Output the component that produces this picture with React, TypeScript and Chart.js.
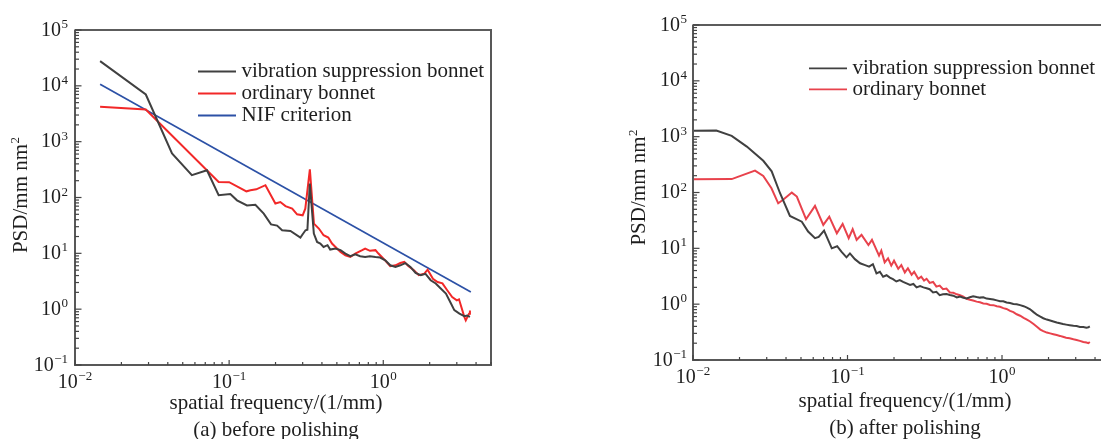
import React, { useEffect, useRef } from "react";
import { Chart, registerables } from "chart.js";

Chart.register(...registerables);

// ---------- axis ranges / ticks ----------
const X_MIN = 0.01;
const X_MAX = 5;
const Y_MIN = 0.1;
const Y_MAX = 1e5;
const xTickExps = [-2, -1, 0];
const yTickExps = [-1, 0, 1, 2, 3, 4, 5];

// ---------- texts ----------
const seriesLabels = ["vibration suppression bonnet", "ordinary bonnet", "NIF criterion"];
const xAxisTitle = "spatial frequency/(1/mm)";
const yAxisTitle = "PSD/mm nm";
const yAxisTitleSup = "2";
const subtitleA = "(a) before polishing";
const subtitleB = "(b) after polishing";

// ---------- (a) before polishing ----------
const vsbBeforeFreq = [0.01455, 0.0288, 0.0426, 0.0573, 0.0718, 0.0855, 0.1018, 0.1125, 0.1305, 0.148, 0.1677, 0.187, 0.2047, 0.2207, 0.25, 0.29, 0.3, 0.313, 0.322, 0.3337, 0.3545, 0.372, 0.3905, 0.41, 0.435, 0.4525, 0.49, 0.528, 0.568, 0.611, 0.658, 0.708, 0.763, 0.82, 0.89, 0.955, 1.03, 1.11, 1.2, 1.29, 1.39, 1.5, 1.62, 1.75, 1.88, 2.03, 2.19, 2.36, 2.55, 2.75, 2.89, 3.12, 3.36, 3.5, 3.65];
const vsbBeforePsd = [27700, 7000, 615, 251, 308, 110, 115, 89, 72, 74, 51.5, 33, 31.4, 25.9, 25.2, 19.2, 22, 25.9, 26.5, 178, 22.6, 16, 15, 13, 14, 11.7, 12.2, 11.4, 9.9, 8.9, 9.6, 8.9, 8.6, 8.9, 8.6, 8.4, 7.5, 6.1, 5.7, 6.1, 6.7, 5.7, 4.46, 4.05, 4.3, 3.3, 2.88, 2.34, 1.9, 1.26, 0.96, 0.83, 0.75, 0.77, 0.73];

const obBeforeFreq = [0.01455, 0.0288, 0.0855, 0.1, 0.1294, 0.1375, 0.15, 0.172, 0.1995, 0.215, 0.232, 0.2565, 0.276, 0.3, 0.312, 0.334, 0.355, 0.382, 0.41, 0.44, 0.465, 0.49, 0.528, 0.568, 0.611, 0.658, 0.73, 0.763, 0.82, 0.89, 0.93, 1.0, 1.11, 1.2, 1.29, 1.37, 1.46, 1.58, 1.7, 1.84, 1.94, 2.1, 2.25, 2.42, 2.6, 2.8, 3.0, 3.1, 3.36, 3.43, 3.6, 3.65];
const obBeforePsd = [4200, 3770, 190, 188, 129, 135, 140, 166, 78, 83, 70, 63.5, 50, 48, 63, 318, 34, 27.8, 21.1, 19.2, 15, 13, 10.6, 9.2, 8.6, 9.9, 11.4, 12.2, 11.1, 11.4, 9.9, 8.1, 5.9, 6.1, 6.7, 7.0, 5.9, 4.98, 4.05, 4.3, 5.1, 3.5, 3.07, 2.9, 2.18, 1.65, 1.44, 1.5, 0.72, 0.63, 0.83, 0.95];

const nifFreq = [0.01455, 3.7];
const nifPsd = [10700, 2.03];

// ---------- (b) after polishing ----------
const vsbAfterFreq = [0.0095, 0.01416, 0.0178, 0.0223, 0.0285, 0.0323, 0.0366, 0.0424, 0.0506, 0.0556, 0.0616, 0.0651, 0.0705, 0.0791, 0.0857, 0.0913, 0.0985, 0.1037, 0.1116, 0.1206, 0.13, 0.138, 0.146, 0.154, 0.162, 0.17, 0.179, 0.188, 0.197, 0.207, 0.218, 0.229, 0.241, 0.254, 0.267, 0.28, 0.295, 0.31, 0.325, 0.34, 0.358, 0.376, 0.395, 0.415, 0.437, 0.46, 0.484, 0.51, 0.535, 0.562, 0.59, 0.62, 0.65, 0.685, 0.72, 0.757, 0.795, 0.836, 0.88, 0.925, 0.97, 1.02, 1.07, 1.127, 1.185, 1.245, 1.31, 1.38, 1.45, 1.52, 1.6, 1.69, 1.77, 1.85, 1.95, 2.05, 2.15, 2.26, 2.37, 2.48, 2.6, 2.74, 2.9, 3.04, 3.19, 3.36, 3.52, 3.62, 3.7];
const vsbAfterPsd = [1270, 1290, 1033, 665, 370, 240, 97, 38, 30, 20, 15.2, 16, 20.8, 10, 10.9, 8.7, 6.9, 8.1, 6.4, 5.4, 5.0, 4.7, 5.2, 3.57, 3.8, 3.1, 3.3, 3.0, 2.8, 2.55, 2.7, 2.5, 2.35, 2.21, 2.3, 2.0, 2.1, 2.0, 1.93, 1.85, 1.62, 1.66, 1.45, 1.5, 1.52, 1.46, 1.42, 1.32, 1.37, 1.3, 1.27, 1.33, 1.38, 1.34, 1.31, 1.33, 1.26, 1.24, 1.21, 1.17, 1.13, 1.13, 1.07, 1.05, 1.01, 1.0, 0.96, 0.92, 0.87, 0.81, 0.72, 0.64, 0.6, 0.56, 0.53, 0.51, 0.49, 0.47, 0.455, 0.44, 0.43, 0.42, 0.41, 0.405, 0.39, 0.39, 0.38, 0.385, 0.4];

const obAfterFreq = [0.0095, 0.0178, 0.0252, 0.0285, 0.0322, 0.0356, 0.0383, 0.0436, 0.047, 0.0539, 0.0616, 0.0697, 0.0762, 0.0853, 0.093, 0.1018, 0.108, 0.1146, 0.1233, 0.1366, 0.144, 0.154, 0.16, 0.1655, 0.174, 0.183, 0.192, 0.2, 0.213, 0.223, 0.235, 0.246, 0.26, 0.27, 0.287, 0.3, 0.313, 0.325, 0.34, 0.358, 0.376, 0.395, 0.415, 0.437, 0.46, 0.484, 0.51, 0.535, 0.562, 0.59, 0.62, 0.65, 0.685, 0.72, 0.757, 0.795, 0.836, 0.88, 0.925, 0.97, 1.02, 1.07, 1.127, 1.185, 1.245, 1.31, 1.38, 1.45, 1.52, 1.6, 1.69, 1.77, 1.85, 1.95, 2.05, 2.15, 2.26, 2.37, 2.48, 2.6, 2.74, 2.9, 3.04, 3.19, 3.36, 3.52, 3.62, 3.7];
const obAfterPsd = [172, 174, 247, 198, 119, 64, 74, 99.6, 84.5, 33.2, 57.5, 26.3, 37, 18.6, 27.4, 15.2, 22, 14.2, 17.4, 11.5, 14.2, 9.4, 7.4, 9.1, 5.6, 6.6, 4.9, 6.0, 4.3, 5.0, 3.7, 4.4, 3.35, 3.8, 2.85, 3.1, 2.65, 2.85, 2.4, 2.5, 2.06, 2.15, 1.85, 1.9, 1.62, 1.6, 1.5, 1.45, 1.36, 1.25, 1.2, 1.16, 1.11, 1.08, 1.03, 1.02, 0.97, 0.96, 0.92, 0.9, 0.85, 0.82, 0.76, 0.72, 0.66, 0.62, 0.57, 0.53, 0.49, 0.44, 0.39, 0.35, 0.33, 0.31, 0.3, 0.29, 0.28, 0.27, 0.26, 0.25, 0.245, 0.235, 0.228, 0.22, 0.21, 0.205, 0.2, 0.21];

const FONT = '"Liberation Serif", "Times New Roman", serif';
const COL_GRAY = "#404040";
const COL_BLUE = "#2c51a6";

type PanelCfg = {
  left: number;
  width: number;
  padding: { left: number; right: number; top: number; bottom: number };
  legend: { x: number; y: number; dy: number };
  xTitle: { x: number; y: number };
  sub: { x: number; y: number; text: string };
  yTitle: { x: number; y: number };
  labelGap: number;
  series: { label: string; freq: number[]; psd: number[]; color: string; width: number }[];
};

function toPoints(f: number[], p: number[]) {
  return f.map((x, i) => ({ x, y: p[i] }));
}

function drawPow(ctx: CanvasRenderingContext2D, exp: number, x: number, y: number, align: "right" | "center") {
  const base = "10";
  const e = exp < 0 ? "\u2212" + Math.abs(exp) : String(exp);
  ctx.font = `20px ${FONT}`;
  const wb = ctx.measureText(base).width;
  ctx.font = `13px ${FONT}`;
  const we = ctx.measureText(e).width;
  const total = wb + we + 0.5;
  const x0 = align === "right" ? x - total : x - total / 2;
  ctx.textAlign = "left";
  ctx.textBaseline = "alphabetic";
  ctx.font = `20px ${FONT}`;
  ctx.fillText(base, x0, y);
  ctx.font = `13px ${FONT}`;
  ctx.fillText(e, x0 + wb + 0.5, y - 7.5);
}

function Panel({ cfg }: { cfg: PanelCfg }) {
  const ref = useRef<HTMLCanvasElement | null>(null);
  useEffect(() => {
    const canvas = ref.current;
    if (!canvas) return;
    const decor = {
      id: "decor",
      afterDraw(chart: any) {
        const ctx: CanvasRenderingContext2D = chart.ctx;
        const a = chart.chartArea;
        const xs = chart.scales.x;
        const ys = chart.scales.y;
        const seg = (x1: number, y1: number, x2: number, y2: number) => {
          ctx.beginPath();
          ctx.moveTo(x1, y1);
          ctx.lineTo(x2, y2);
          ctx.stroke();
        };
        ctx.save();
        // frame
        ctx.strokeStyle = "#262626";
        ctx.lineWidth = 1.3;
        seg(a.left, a.top, a.right + 1, a.top);
        ctx.strokeStyle = "#585858";
        ctx.lineWidth = 2;
        seg(a.left, a.top - 0.6, a.left, a.bottom + 1);
        seg(a.left - 1, a.bottom, a.right + 1, a.bottom);
        seg(a.right, a.top - 0.6, a.right, a.bottom + 1);
        // ticks
        ctx.strokeStyle = "#444";
        ctx.lineWidth = 1.2;
        for (const e of xTickExps) {
          for (let k = 1; k <= 9; k++) {
            const v = k * Math.pow(10, e);
            if (v < X_MIN || v > X_MAX) continue;
            const px = xs.getPixelForValue(v);
            seg(px, a.bottom, px, a.bottom - (k === 1 ? 5 : 3));
          }
        }
        for (const e of yTickExps) {
          for (let k = 1; k <= 9; k++) {
            const v = k * Math.pow(10, e);
            if (v < Y_MIN * 0.999 || v > Y_MAX * 1.001) continue;
            const py = ys.getPixelForValue(v);
            seg(a.left, py, a.left + (k === 1 ? 6.5 : 4), py);
          }
        }
        // tick labels
        ctx.fillStyle = "#1e1e1e";
        for (const e of yTickExps) {
          const py = ys.getPixelForValue(Math.pow(10, e));
          drawPow(ctx, e, a.left - cfg.labelGap, py + 5.5, "right");
        }
        for (const e of xTickExps) {
          const px = xs.getPixelForValue(Math.pow(10, e));
          drawPow(ctx, e, px, a.bottom + 22.5, "center");
        }
        // axis titles
        ctx.font = `21px ${FONT}`;
        ctx.textAlign = "center";
        ctx.textBaseline = "alphabetic";
        ctx.fillText(xAxisTitle, cfg.xTitle.x, cfg.xTitle.y);
        ctx.fillText(cfg.sub.text, cfg.sub.x, cfg.sub.y);
        ctx.save();
        ctx.translate(cfg.yTitle.x, cfg.yTitle.y);
        ctx.rotate(-Math.PI / 2);
        ctx.font = `21px ${FONT}`;
        const w1 = ctx.measureText(yAxisTitle).width;
        ctx.font = `13px ${FONT}`;
        const w2 = ctx.measureText(yAxisTitleSup).width;
        const tot = w1 + w2 + 0.5;
        ctx.textAlign = "left";
        ctx.font = `21px ${FONT}`;
        ctx.fillText(yAxisTitle, -tot / 2, 0);
        ctx.font = `13px ${FONT}`;
        ctx.fillText(yAxisTitleSup, -tot / 2 + w1 + 0.5, -8);
        ctx.restore();
        // legend
        chart.data.datasets.forEach((ds: any, i: number) => {
          const y = cfg.legend.y + i * cfg.legend.dy;
          ctx.strokeStyle = ds.borderColor;
          ctx.lineWidth = 1.8;
          seg(cfg.legend.x, y, cfg.legend.x + 38, y);
          ctx.fillStyle = "#1e1e1e";
          ctx.font = `21px ${FONT}`;
          ctx.textAlign = "left";
          ctx.textBaseline = "alphabetic";
          ctx.fillText(ds.label, cfg.legend.x + 43.5, y + 5.5);
        });
        ctx.restore();
      },
    };
    const chart = new Chart(canvas, {
      type: "line",
      data: {
        datasets: cfg.series.map((s) => ({
          label: s.label,
          data: toPoints(s.freq, s.psd),
          borderColor: s.color,
          backgroundColor: s.color,
          borderWidth: s.width,
          pointRadius: 0,
          tension: 0,
          fill: false,
        })),
      },
      options: {
        animation: false,
        responsive: false,
        devicePixelRatio: 1,
        events: [],
        layout: { padding: cfg.padding },
        plugins: { legend: { display: false }, tooltip: { enabled: false }, title: { display: false } },
        scales: {
          x: { type: "logarithmic", min: X_MIN, max: X_MAX, display: false },
          y: { type: "logarithmic", min: Y_MIN, max: Y_MAX, display: false },
        },
      },
      plugins: [decor],
    } as any);
    return () => chart.destroy();
  }, [cfg]);
  return (
    <canvas
      ref={ref}
      width={cfg.width}
      height={439}
      style={{ position: "absolute", left: cfg.left, top: 0, width: cfg.width, height: 439 }}
    />
  );
}

const panelA: PanelCfg = {
  left: 0,
  width: 550,
  padding: { left: 75, right: 59, top: 30, bottom: 74 },
  legend: { x: 198, y: 71.5, dy: 22 },
  xTitle: { x: 276, y: 409 },
  sub: { x: 276, y: 436, text: subtitleA },
  yTitle: { x: 26.5, y: 195 },
  labelGap: 7,
  series: [
    { label: seriesLabels[0], freq: vsbBeforeFreq, psd: vsbBeforePsd, color: COL_GRAY, width: 2 },
    { label: seriesLabels[1], freq: obBeforeFreq, psd: obBeforePsd, color: "#f22828", width: 2 },
    { label: seriesLabels[2], freq: nifFreq, psd: nifPsd, color: COL_BLUE, width: 1.7 },
  ],
};

const panelB: PanelCfg = {
  left: 550,
  width: 600,
  padding: { left: 143, right: 40, top: 25, bottom: 79 },
  legend: { x: 259, y: 68.3, dy: 21 },
  xTitle: { x: 355, y: 407 },
  sub: { x: 355, y: 434, text: subtitleB },
  yTitle: { x: 95, y: 187.5 },
  labelGap: 6,
  series: [
    { label: seriesLabels[0], freq: vsbAfterFreq, psd: vsbAfterPsd, color: COL_GRAY, width: 2 },
    { label: seriesLabels[1], freq: obAfterFreq, psd: obAfterPsd, color: "#e8424c", width: 2 },
  ],
};

export default function App() {
  return (
    <div
      style={{
        position: "absolute",
        left: 0,
        top: 0,
        width: 1101,
        height: 439,
        overflow: "hidden",
        background: "#fff",
      }}
    >
      <Panel cfg={panelA} />
      <Panel cfg={panelB} />
    </div>
  );
}
